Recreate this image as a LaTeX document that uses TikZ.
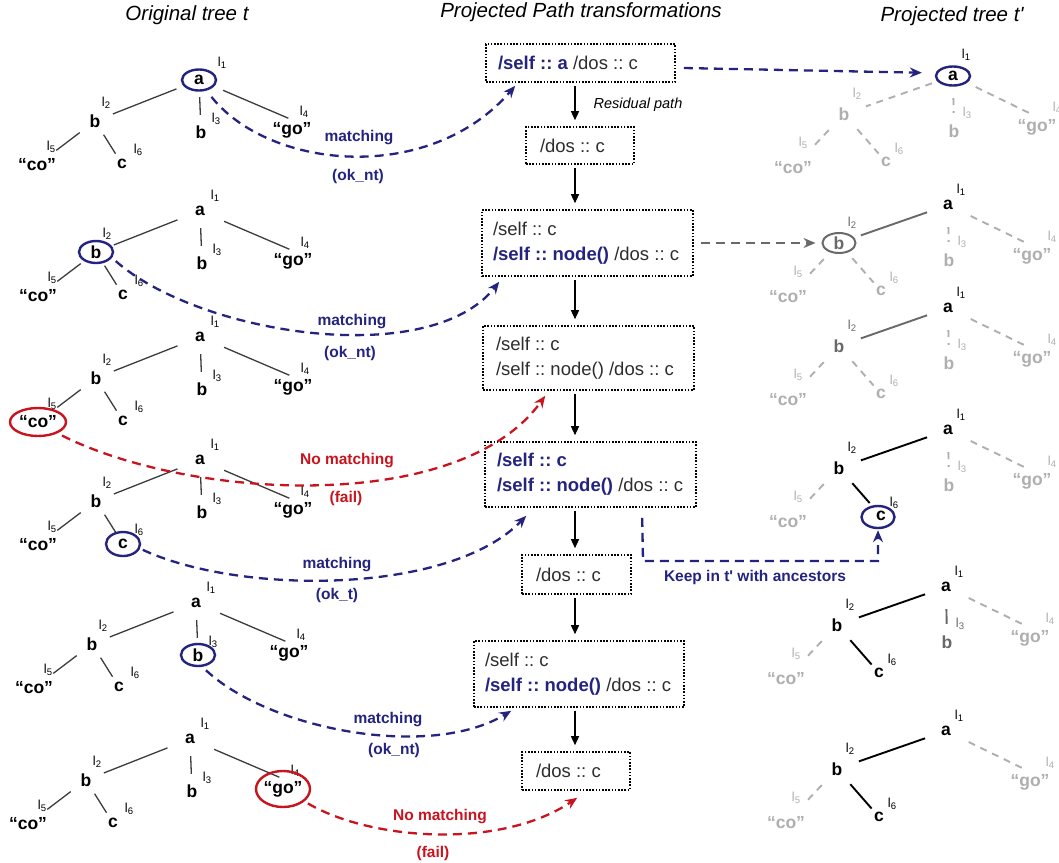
\documentclass[tikz,border=0pt]{standalone}
\usepackage{fontspec}
\setmainfont{Liberation Sans}
\usetikzlibrary{shapes.geometric,arrows.meta,calc}
\definecolor{navy}{RGB}{36,36,128}
\definecolor{fred}{RGB}{200,20,30}
\definecolor{lgray}{RGB}{175,175,175}
\definecolor{mgray}{RGB}{105,105,105}
\definecolor{tgray}{RGB}{45,45,45}
\definecolor{egray}{RGB}{60,60,60}
\newcommand{\lsub}[1]{{\fontsize{13}{13}\selectfont l\raisebox{-2pt}{\fontsize{9.5}{9.5}\selectfont #1}}}
\newcommand{\bx}[2]{\makebox[#1][l]{#2}}
% left tree: prefix, x, y, l1 dx, l1 dy
\newcommand{\ltree}[5]{%
 \node[tn] (#1a) at (#2,#3) {a};
 \node[tn] (#1b) at ({#2-104},{#3+41}) {b};
 \node[tn] (#1bb) at ({#2+2},{#3+52}) {b};
 \node[tn] (#1go) at ({#2+93},{#3+50}) {\makebox[0pt]{“go”}};
 \node[tn] (#1co) at ({#2-162},{#3+85}) {\makebox[0pt]{“co”}};
 \node[tn] (#1c) at ({#2-77},{#3+84}) {c};
 \node[lab] (#1l1) at ({#2+#4},{#3+#5}) {\lsub1};
 \node[lab] (#1l2) at ({#2-93},{#3+23}) {\lsub2};
 \node[lab] (#1l3) at ({#2+17},{#3+39}) {\lsub3};
 \node[lab] (#1l4) at ({#2+105},{#3+32}) {\lsub4};
 \node[lab] (#1l5) at ({#2-148},{#3+67}) {\lsub5};
 \node[lab] (#1l6) at ({#2-61},{#3+70}) {\lsub6};
 \draw[ledge,shorten <=14pt,shorten >=9pt] (#1a) -- (#1b);
 \draw[ledge,shorten <=7pt,shorten >=7pt] (#1a) -- (#1bb);
 \draw[ledge,shorten <=16pt,shorten >=4pt] (#1a) -- (#1go.north);
 \draw[ledge,shorten <=9pt,shorten >=14pt] (#1b) -- (#1co);
 \draw[ledge,shorten <=6pt,shorten >=2pt] (#1b) -- (#1c);
}
% right tree nodes: prefix, x, y, col a, col b, col go, col co, col c, l1 dy
\newcommand{\rtree}[9]{%
 \node[tn,text=#4] (#1a) at (#2,#3) {a};
 \node[tn,text=#5] (#1b) at ({#2-109},{#3+38}) {b};
 \node[tn,text=#6] (#1go) at ({#2+84},{#3+51}) {\makebox[0pt]{“go”}};
 \node[tn,text=#7] (#1co) at ({#2-160},{#3+92}) {\makebox[0pt]{“co”}};
 \node[tn,text=#8] (#1c) at ({#2-67},{#3+86}) {c};
 \node[lab] (#1l1) at ({#2+13},{#3+#9}) {\lsub1};
 \node[lab,text=#5] (#1l2) at ({#2-96},{#3+18}) {\lsub2};
 \node[lab,text=#6] (#1l4) at ({#2+104},{#3+32}) {\lsub4};
 \node[lab,text=#7] (#1l5) at ({#2-150},{#3+67}) {\lsub5};
 \node[lab,text=#8] (#1l6) at ({#2-54},{#3+73}) {\lsub6};
}
\newcommand{\rbb}[4]{%
 \node[tn,text=#4] (#1bb) at ({#2+1},{#3+55}) {b};
 \node[lab,text=#4] (#1l3) at ({#2+14},{#3+37}) {\lsub3};
}
\begin{document}
\frenchspacing
\begin{tikzpicture}[x=1pt,y=-1pt,
 tn/.style={circle,inner sep=0pt,minimum size=20pt,font=\fontsize{17.5}{17.5}\selectfont\bfseries},
 lab/.style={inner sep=0pt},
 ledge/.style={egray,line width=1.3pt},
 rsolid/.style={black,line width=1.9pt},
 rgsolid/.style={mgray,line width=1.9pt},
 rdash/.style={lgray,line width=1.9pt,dash pattern=on 7pt off 6pt},
 rab/.style={shorten <=12pt,shorten >=13pt},
 rabb/.style={shorten <=12pt,shorten >=8pt},
 rago/.style={shorten <=15pt,shorten >=4pt},
 rbco/.style={shorten <=12pt,shorten >=17pt},
 rbc/.style={shorten <=10pt,shorten >=1pt},
 ring/.style={ellipse,draw,line width=2.4pt,inner sep=0pt},
 pbox/.style={draw=black,dash pattern=on 1.6pt off 1.6pt,line width=1.6pt,inner sep=0pt,
   align=left,text=tgray,font=\fontsize{18.5}{25}\selectfont},
 hdr/.style={inner sep=0pt,font=\fontsize{20.5}{21}\selectfont\itshape},
 blbl/.style={inner sep=0pt,text=navy,font=\fontsize{15.5}{16}\selectfont\bfseries},
 rlbl/.style={inner sep=0pt,text=fred,font=\fontsize{15.5}{16}\selectfont\bfseries},
 dasharr/.style={line width=2.3pt,dash pattern=on 9pt off 6pt,-{Stealth[length=12pt,width=10pt,inset=4pt]}},
 barrow/.style={navy,dasharr},
 rarrow/.style={fred,dasharr},
 garrow/.style={mgray,dasharr},
 varrow/.style={black,line width=1.4pt,-{Triangle[length=9pt,width=8pt]},shorten <=3pt,shorten >=6pt}
]
\useasboundingbox (0,0) rectangle (1059,862);
\fill[white] (0,0) rectangle (1059,862);

% headers
\node[hdr] (H1) at (187,15) {Original tree t};
\node[hdr] (H2) at (581,12) {Projected Path transformations};
\node[hdr] (H3) at (952,16) {Projected tree t\textquotesingle};

% left trees
\ltree{T1}{199}{80}{23}{-17}
\ltree{T2}{200}{211}{15}{-15}
\ltree{T3}{200}{337}{15}{-15}
\ltree{T4}{200}{460}{15}{-15}
\ltree{T5}{196}{603}{15}{-15}
\ltree{T6}{190}{739}{15}{-15}

\node[ring,draw=navy,minimum width=34pt,minimum height=21pt] (T1ring) at (T1a) {};
\node[ring,draw=navy,minimum width=34pt,minimum height=22pt] (T2ring) at (T2b) {};
\node[ring,draw=fred,minimum width=56pt,minimum height=28pt] (COring) at (T3co) {};
\node[ring,draw=navy,minimum width=34pt,minimum height=24pt] (T4ring) at (T4c) {};
\node[ring,draw=navy,minimum width=34pt,minimum height=22pt] (T5ring) at (T5bb) {};
\node[ring,draw=fred,minimum width=54pt,minimum height=36pt] (GOring) at (T6go) {};

% boxes
\node[pbox,minimum width=189pt,minimum height=38pt] (B1) at (580.5,63)
  {\bx{165pt}{{\color{navy}\bfseries /self :: a} /dos :: c}};
\node[pbox,minimum width=108pt,minimum height=37pt] (B2) at (580,145.5)
  {\bx{80pt}{/dos :: c}};
\node[pbox,minimum width=211pt,minimum height=66pt] (B3) at (587.5,243)
  {\bx{189pt}{/self :: c}\\\bx{189pt}{{\color{navy}\bfseries /self :: node()} /dos :: c}};
\node[pbox,minimum width=211pt,minimum height=64pt] (B4) at (588.5,358)
  {\bx{185pt}{/self :: c}\\\bx{185pt}{/self :: node() /dos :: c}};
\node[pbox,minimum width=211pt,minimum height=65pt] (B5) at (590.5,474.5)
  {\bx{187pt}{{\color{navy}\bfseries /self :: c}}\\\bx{187pt}{{\color{navy}\bfseries /self :: node()} /dos :: c}};
\node[pbox,minimum width=109pt,minimum height=39pt] (B6) at (576.5,574.5)
  {\bx{81pt}{/dos :: c}};
\node[pbox,minimum width=210pt,minimum height=66pt] (B7) at (579,674)
  {\bx{188pt}{/self :: c}\\\bx{188pt}{{\color{navy}\bfseries /self :: node()} /dos :: c}};
\node[pbox,minimum width=108pt,minimum height=38pt] (B8) at (576,771)
  {\bx{80pt}{/dos :: c}};

% vertical arrows
\coordinate (colX) at (575,0);
\draw[varrow] (B1.south -| colX) -- (B2.north -| colX);
\draw[varrow] (B2.south -| colX) -- (B3.north -| colX);
\draw[varrow] (B3.south -| colX) -- (B4.north -| colX);
\draw[varrow] (B4.south -| colX) -- (B5.north -| colX);
\draw[varrow] (B5.south -| colX) -- (B6.north -| colX);
\draw[varrow] (B6.south -| colX) -- (B7.north -| colX);
\draw[varrow] (B7.south -| colX) -- (B8.north -| colX);
\node[inner sep=0pt,font=\fontsize{14.5}{15}\selectfont\itshape] (RP) at (638,105) {Residual path};

% right trees
\rtree{R1}{953}{76}{black}{lgray}{lgray}{lgray}{lgray}{-21}
\rbb{R1}{953}{76}{lgray}
\draw[rdash,rab] (R1a) -- (R1b);
\draw[rdash,rabb] (R1a) -- (R1bb);
\draw[rdash,rago] (R1a) -- (R1go.north);
\draw[rdash,rbco] (R1b) -- (R1co);
\draw[rdash,rbc] (R1b) -- (R1c);
\node[ring,draw=navy,minimum width=34pt,minimum height=19pt] (RR1) at (R1a) {};

\rtree{R2}{948}{205}{black}{mgray}{lgray}{lgray}{lgray}{-15}
\rbb{R2}{948}{205}{lgray}
\draw[rgsolid,rab] (R2a) -- (R2b);
\draw[rdash,rabb] (R2a) -- (R2bb);
\draw[rdash,rago] (R2a) -- (R2go.north);
\draw[rdash,rbco] (R2b) -- (R2co);
\draw[rdash,rbc] (R2b) -- (R2c);
\node[ring,draw=mgray,line width=2pt,minimum width=33pt,minimum height=20pt] (RR2) at (R2b) {};

\rtree{R3}{948}{308}{black}{mgray}{lgray}{lgray}{lgray}{-15}
\rbb{R3}{948}{308}{lgray}
\draw[rgsolid,rab] (R3a) -- (R3b);
\draw[rdash,rabb] (R3a) -- (R3bb);
\draw[rdash,rago] (R3a) -- (R3go.north);
\draw[rdash,rbco] (R3b) -- (R3co);
\draw[rdash,rbc] (R3b) -- (R3c);

\rtree{R4}{948}{430}{black}{black}{lgray}{lgray}{black}{-15}
\rbb{R4}{948}{430}{lgray}
\draw[rsolid,rab] (R4a) -- (R4b);
\draw[rdash,rabb] (R4a) -- (R4bb);
\draw[rdash,rago] (R4a) -- (R4go.north);
\draw[rdash,rbco] (R4b) -- (R4co);
\draw[rsolid,shorten <=10pt,shorten >=7pt] (R4b) -- (R4c);
\node[ring,draw=navy,minimum width=33pt,minimum height=22pt] (RR4) at ($(R4c)+(-3,1)$) {};

\rtree{R5}{946}{587}{black}{black}{lgray}{lgray}{black}{-15}
\rbb{R5}{946}{587}{mgray}
\draw[rsolid,rab] (R5a) -- (R5b);
\draw[rgsolid,rabb] (R5a) -- (R5bb);
\draw[rdash,rago] (R5a) -- (R5go.north);
\draw[rdash,rbco] (R5b) -- (R5co);
\draw[rsolid,rbc] (R5b) -- (R5c);

\rtree{R6}{946}{731}{black}{black}{lgray}{lgray}{black}{-15}
\draw[rsolid,rab] (R6a) -- (R6b);
\draw[rdash,rago] (R6a) -- (R6go.north);
\draw[rdash,rbco] (R6b) -- (R6co);
\draw[rsolid,rbc] (R6b) -- (R6c);

% matching arrows
\draw[barrow,shorten <=8pt] (T1ring.-55) .. controls (270,170) and (430,185) .. ($(B1.south west)+(30,3)$);
\node[blbl] (M1) at (359,138) {matching};
\node[blbl] (K1) at (358,176) {(ok\_nt)};

\draw[barrow,shorten <=5pt] (T2ring.-20) .. controls (200,335) and (430,370) .. ($(B3.south west)+(18,5)$);
\node[blbl] (M2) at (352,322) {matching};
\node[blbl] (K2) at (350,353) {(ok\_nt)};

\draw[rarrow,shorten <=5pt] (COring.-30) .. controls (190,500) and (460,515) .. ($(B4.south west)+(63,5)$);
\node[rlbl] (M3) at (347,461) {No matching};
\node[rlbl] (K3) at (346,498) {(fail)};

\draw[barrow,shorten <=3pt] (T4ring.-15) .. controls (240,595) and (450,595) .. ($(B5.south west)+(42,8)$);
\node[blbl] (M4) at (337,565) {matching};
\node[blbl] (K4) at (337,595) {(ok\_t)};

\draw[barrow,shorten <=5pt] (T5ring.-70) .. controls (270,730) and (430,760) .. ($(B7.south west)+(38,3)$);
\node[blbl] (M5) at (388,720) {matching};
\node[blbl] (K5) at (394,750) {(ok\_nt)};

\draw[rarrow,shorten <=4pt] (GOring.-30) .. controls (370,840) and (500,850) .. ($(B8.south west)+(56,7)$);
\node[rlbl] (M6) at (440,817) {No matching};
\node[rlbl] (K6) at (433,853) {(fail)};

% projection arrows
\draw[barrow,shorten >=13pt] ($(B1.east)+(8,5)$) -- ($(RR1.west)+(0,-3)$);
\draw[garrow,shorten <=7pt,shorten >=6pt] (B3.east) -- (RR2.west);
\coordinate (K0) at ($(B5.south west)+(158,10)$);
\coordinate (KC) at (643,561);
\draw[barrow,shorten >=1pt] (K0) -- (KC) -| (RR4.south);
\node[blbl] (KL) at (755,577) {Keep in t\textquotesingle{} with ancestors};
\end{tikzpicture}
\end{document}
